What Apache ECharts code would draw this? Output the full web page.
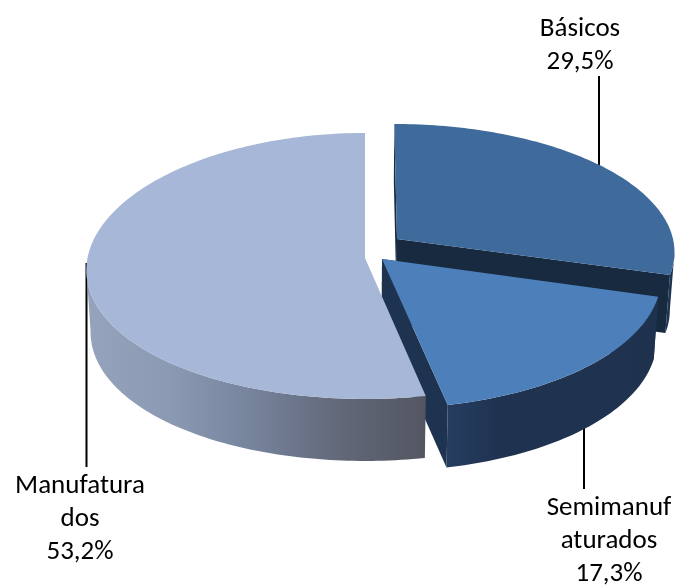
<!DOCTYPE html>
<html>

<head>
    <meta charset="utf-8">
    <script src="https://cdn.jsdelivr.net/npm/echarts@6/dist/echarts.min.js"></script>
    <style>
        html, body { margin: 0; padding: 0; background: #fff; }
        #main { width: 675px; height: 585px; }
    </style>
</head>

<body>
    <div id="main"></div>
</body>

<script type="text/javascript">
    var categories = ['Básicos', 'Semimanufaturados', 'Manufaturados'];
    var values = [29.5, 17.3, 53.2];
    var wrappedNames = [['Básicos'], ['Semimanuf', 'aturados'], ['Manufatura', 'dos']];

    // x of the vanishing point, every slice recedes towards it
    var vanishX = 365;
    var bottomScale = 0.985;

    // ax, ay: tip of the slice. r: radius, t: tilt height, p/px: perspective strength in y and x
    var slices = [
        {
            ax: 397, ay: 239, r: 276, t: 125.7, p: 0.093, px: 0.093, depth: 58,
            top: '#3E6A9C', side: '#1F3450', cut: '#172A40',
            labelX: 580, labelY: 29, leader: [[599, 76], [599, 167]]
        },
        {
            ax: 382, ay: 259, r: 276.5, t: 130, p: 0.13, px: 0.13, depth: 62.5,
            top: '#4D80BB', cut: '#1E3350',
            side: ['#263D60', '#1F3350', '#1F3350', '#1F3350', '#1E324E'],
            labelX: 609, labelY: 508, leader: [[584, 425], [584, 489]]
        },
        {
            ax: 365, ay: 258, r: 277.5, t: 132.5, p: 0.06, px: 0.09, depth: 62,
            top: '#A7B7D7',
            side: ['#95A3BD', '#8B99B3', '#75829A', '#626878', '#535662'],
            labelX: 80, labelY: 486, leader: [[86.5, 263], [86.5, 467]]
        }
    ];

    var total = values.reduce(function (a, b) { return a + b; }, 0);

    function rimPoint(s, angle) {
        // angle is clockwise from 12 o'clock
        var u = Math.sin(angle);
        var v = Math.cos(angle);
        var kx = 1 / (1 + s.px * v);
        var ky = 1 / (1 + s.p * v);
        return [vanishX + (s.ax - vanishX + s.r * u) * kx, s.ay - s.t * v * ky];
    }

    function lower(s, pt) {
        return [vanishX + (pt[0] - vanishX) * bottomScale, pt[1] + s.depth];
    }

    function arcPoints(s, a0, a1) {
        var pts = [];
        var steps = Math.ceil((a1 - a0) / 0.02);
        for (var i = 0; i <= steps; i++) {
            pts.push(rimPoint(s, a0 + (a1 - a0) * i / steps));
        }
        return pts;
    }

    // part of the rim that faces us, cut at the left or right extreme of the slice
    function frontArc(arc, i) {
        var xs = arc.map(function (p) { return p[0]; });
        if (i === 2) {
            return arc.slice(0, xs.indexOf(Math.min.apply(null, xs)) + 1);
        }
        return arc.slice(xs.indexOf(Math.max.apply(null, xs)));
    }

    function sideFill(s, front) {
        if (typeof s.side === 'string') return s.side;
        var x0 = Math.min(front[0][0], front[front.length - 1][0]);
        var x1 = Math.max(front[0][0], front[front.length - 1][0]);
        var stops = s.side.map(function (c, i) {
            return { offset: i / (s.side.length - 1), color: c };
        });
        return new echarts.graphic.LinearGradient(x0, 0, x1, 0, stops, true);
    }

    function renderSlice(params) {
        var i = params.dataIndex;
        var s = slices[i];
        var before = 0;
        for (var j = 0; j < i; j++) before += values[j];
        var a0 = before / total * Math.PI * 2;
        var a1 = (before + values[i]) / total * Math.PI * 2;

        var arc = arcPoints(s, a0, a1);
        var tip = [s.ax, s.ay];
        var children = [];

        children.push({
            type: 'polyline',
            shape: { points: s.leader },
            style: { stroke: '#000', lineWidth: 2, fill: null }
        });

        if (s.cut) {
            [arc[0], arc[arc.length - 1]].forEach(function (p) {
                children.push({
                    type: 'polygon',
                    shape: { points: [tip, p, lower(s, p), lower(s, tip)] },
                    style: { fill: s.cut }
                });
            });
        }

        var front = frontArc(arc, i);
        var wall = front.concat(front.map(function (p) { return lower(s, p); }).reverse());
        children.push({ type: 'polygon', shape: { points: wall }, style: { fill: sideFill(s, front) } });

        children.push({
            type: 'polygon',
            shape: { points: [tip].concat(arc) },
            style: { fill: s.top }
        });

        var lines = wrappedNames[i].concat([values[i].toFixed(1).replace('.', ',') + '%']);
        lines.forEach(function (line, n) {
            children.push({
                type: 'text',
                style: {
                    text: line,
                    x: s.labelX,
                    y: s.labelY + n * 33,
                    align: 'center',
                    verticalAlign: 'middle',
                    fill: '#000',
                    font: '27px Carlito, Lato'
                }
            });
        });

        return { type: 'group', children: children };
    }

    var option = {
        animation: false,
        series: [{
            type: 'custom',
            coordinateSystem: 'none',
            silent: true,
            data: values.map(function (v, i) { return { name: categories[i], value: v }; }),
            renderItem: renderSlice
        }]
    };

    var chart = echarts.init(document.getElementById('main'));
    chart.setOption(option);
</script>

</html>
